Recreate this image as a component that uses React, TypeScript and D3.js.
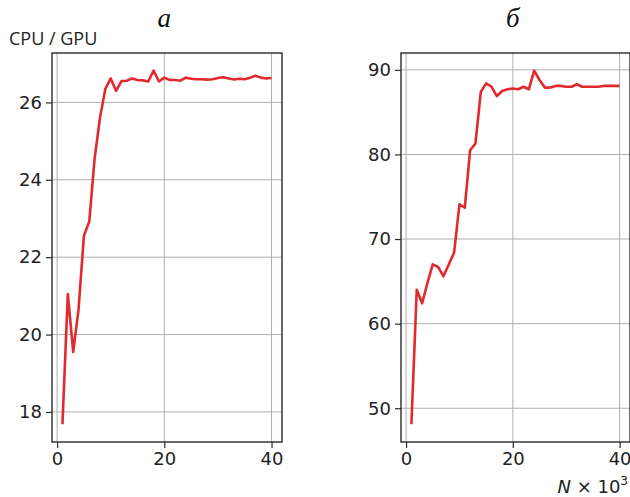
import { useEffect, useRef } from 'react'
import * as d3 from 'd3'

// N x 10^3
const nValues = d3.range(1, 41)

// panel "а": CPU / GPU speed-up
const speedupA = [
  17.68, 21.05, 19.55, 20.65, 22.55, 22.92, 24.55, 25.6, 26.35, 26.62,
  26.3, 26.55, 26.56, 26.62, 26.58, 26.57, 26.54, 26.82, 26.54, 26.64,
  26.58, 26.58, 26.56, 26.64, 26.61, 26.6, 26.6, 26.59, 26.6, 26.63,
  26.65, 26.62, 26.59, 26.61, 26.6, 26.64, 26.69, 26.64, 26.62, 26.63,
]

// panel "б"
const speedupB = [
  48.1, 64.0, 62.4, 64.8, 67.0, 66.7, 65.6, 67.0, 68.4, 74.1,
  73.7, 80.5, 81.3, 87.4, 88.4, 88.0, 86.9, 87.5, 87.7, 87.8,
  87.7, 88.0, 87.7, 89.9, 88.8, 87.9, 87.9, 88.1, 88.1, 88.0,
  88.0, 88.3, 88.0, 88.0, 88.0, 88.0, 88.1, 88.1, 88.1, 88.1,
]

const xTicks = [0, 20, 40]
const yTicksA = [18, 20, 22, 24, 26]
const yTicksB = [50, 60, 70, 80, 90]
const titles = ['а', 'б']

const W = 630
const H = 497

// matplotlib-like 5% margins
function padded(ext: [number, number]): [number, number] {
  const span = ext[1] - ext[0]
  return [ext[0] - span * 0.05, ext[1] + span * 0.05]
}

export default function App() {
  const svgRef = useRef<SVGSVGElement>(null)

  useEffect(() => {
    const svg = d3.select(svgRef.current)
    svg.selectAll('*').remove()

    const top = 53
    const bottom = 442
    const panels = [
      { left: 52, right: 282, values: speedupA, yTicks: yTicksA, title: titles[0] },
      { left: 401, right: 630, values: speedupB, yTicks: yTicksB, title: titles[1] },
    ]

    panels.forEach(p => {
      const x = d3.scaleLinear()
        .domain(padded(d3.extent(nValues) as [number, number]))
        .range([p.left, p.right])
      const y = d3.scaleLinear()
        .domain(padded(d3.extent(p.values) as [number, number]))
        .range([bottom, top])

      const g = svg.append('g')

      // grid
      g.selectAll('line.gx')
        .data(xTicks)
        .join('line')
        .attr('class', 'gx')
        .attr('x1', d => x(d)).attr('x2', d => x(d))
        .attr('y1', top).attr('y2', bottom)
        .attr('stroke', '#b0b0b0')
        .attr('stroke-width', 1)
      g.selectAll('line.gy')
        .data(p.yTicks)
        .join('line')
        .attr('class', 'gy')
        .attr('x1', p.left).attr('x2', p.right)
        .attr('y1', d => y(d)).attr('y2', d => y(d))
        .attr('stroke', '#b0b0b0')
        .attr('stroke-width', 1)

      // data line
      const line = d3.line<number>()
        .x((_, i) => x(nValues[i]))
        .y(d => y(d))
      g.append('path')
        .datum(p.values)
        .attr('d', line)
        .attr('fill', 'none')
        .attr('stroke', '#e02a2e')
        .attr('stroke-width', 2.6)
        .attr('stroke-linejoin', 'round')

      // spines
      g.append('rect')
        .attr('x', p.left).attr('y', top)
        .attr('width', p.right - p.left)
        .attr('height', bottom - top)
        .attr('fill', 'none')
        .attr('stroke', '#2a2a2a')
        .attr('stroke-width', 1.4)

      // axes
      const xa = g.append('g')
        .attr('transform', `translate(0,${bottom})`)
        .call(d3.axisBottom(x).tickValues(xTicks).tickSize(6).tickPadding(4).tickFormat(d3.format('d')))
      const ya = g.append('g')
        .attr('transform', `translate(${p.left},0)`)
        .call(d3.axisLeft(y).tickValues(p.yTicks).tickSize(6).tickPadding(4).tickFormat(d3.format('d')))
      ;[xa, ya].forEach(a => {
        a.select('.domain').remove()
        a.selectAll('line').attr('stroke', '#2a2a2a').attr('stroke-width', 1.2)
        a.selectAll('text')
          .attr('fill', '#222')
          .style('font-family', 'DejaVu Sans, sans-serif')
          .style('font-size', '18px')
      })

      // panel title
      g.append('text')
        .attr('x', (x(0) + x(40)) / 2)
        .attr('y', 27)
        .attr('text-anchor', 'middle')
        .style('font-family', 'Liberation Serif, serif')
        .style('font-style', 'italic')
        .style('font-size', '27px')
        .attr('fill', '#111')
        .text(p.title)
    })

    // y label of the left panel
    svg.append('text')
      .attr('x', 9)
      .attr('y', 45)
      .style('font-family', 'Open Sans, sans-serif')
      .style('font-size', '18px')
      .attr('fill', '#222')
      .text('CPU / GPU')

    // x label of the right panel
    const xl = svg.append('text')
      .attr('x', 628)
      .attr('y', 493)
      .attr('text-anchor', 'end')
      .style('font-family', 'DejaVu Sans, sans-serif')
      .style('font-size', '18px')
      .attr('fill', '#222')
    xl.append('tspan').style('font-style', 'italic').text('N')
    xl.append('tspan').text(' × 10')
    xl.append('tspan').attr('dy', -8).style('font-size', '12px').text('3')
  }, [])

  return (
    <svg
      ref={svgRef}
      width={W}
      height={H}
      style={{ position: 'absolute', left: 0, top: 0, background: '#fff' }}
    />
  )
}
